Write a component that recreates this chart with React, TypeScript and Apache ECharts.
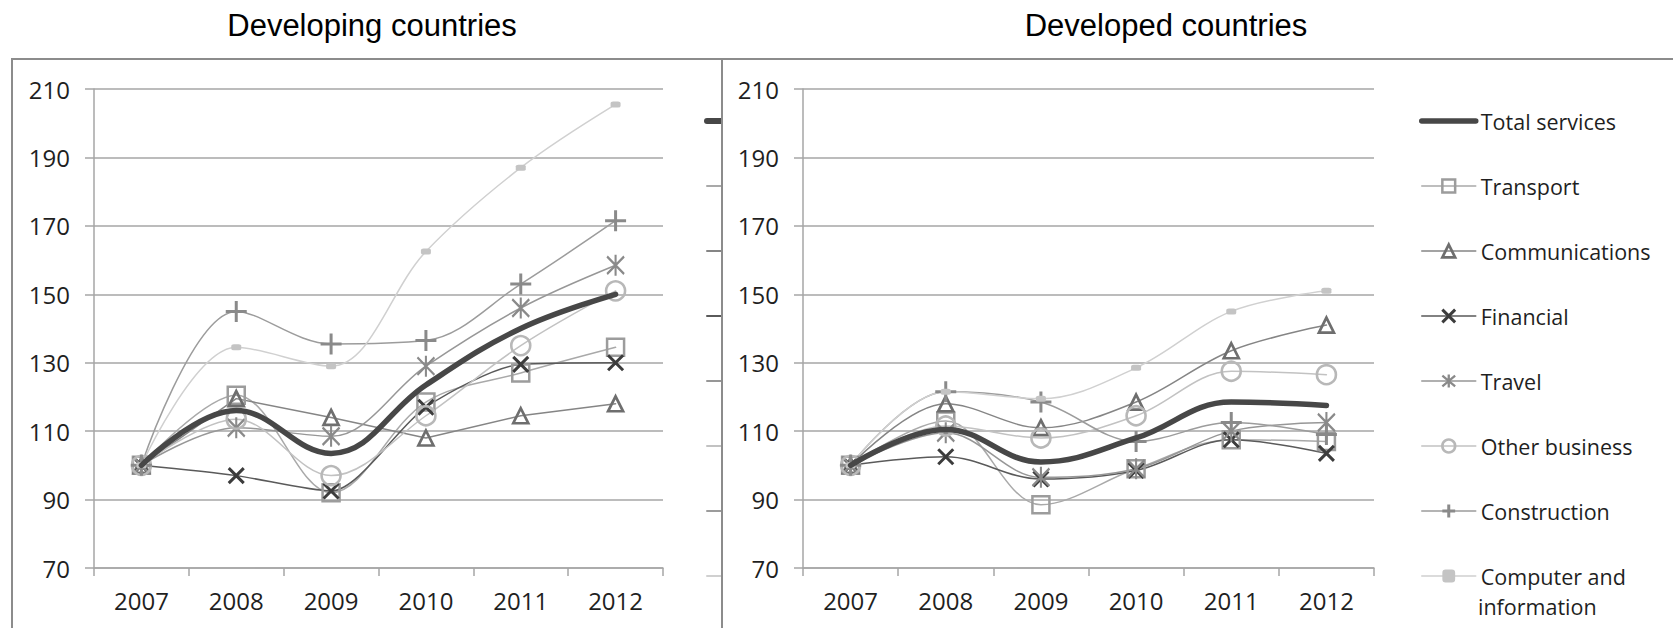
import React, { useEffect, useRef } from 'react';
import * as echarts from 'echarts';

// ---------- data ----------
const years = ['2007', '2008', '2009', '2010', '2011', '2012'];
const yMin = 70;
const yMax = 210;
const yStep = 20;

const seriesNames = [
  'Total services',
  'Transport',
  'Communications',
  'Financial',
  'Travel',
  'Other business',
  'Construction',
  'Computer and information',
];
// legend shows the last name on two lines
const lastNameLines = ['Computer and', 'information'];

const chartTitles = ['Developing countries', 'Developed countries'];

// Developing countries
const devgTotal = [100, 116, 103.5, 123.5, 140, 150];
const devgTransport = [100, 120.5, 92, 118.5, 127, 134.5];
const devgCommunications = [100, 119.5, 114, 108, 114.5, 118];
const devgFinancial = [100, 97, 92.5, 117, 129.5, 130];
const devgTravel = [100, 111, 108.5, 129, 146, 158.5];
const devgOtherBusiness = [100, 113.5, 97, 114.5, 135, 151];
const devgConstruction = [100, 145, 135.5, 136.5, 153, 171.5];
const devgComputer = [100, 134.5, 129, 162.5, 187, 205.5];

// Developed countries
const devdTotal = [100, 110.5, 101, 108, 118.5, 117.5];
const devdTransport = [100, 113, 88.5, 99, 107.5, 107];
const devdCommunications = [100, 118, 111, 118.5, 133.5, 141];
const devdFinancial = [100, 102.5, 96, 98.5, 107.5, 103.5];
const devdTravel = [100, 109.5, 96.5, 99, 110, 112.5];
const devdOtherBusiness = [100, 111.5, 108, 114.5, 127.5, 126.5];
const devdConstruction = [100, 121.5, 118.5, 107, 112.5, 109];
const devdComputer = [100, 121.5, 119.5, 128.5, 145, 151];

const developingValues = [
  devgTotal, devgTransport, devgCommunications, devgFinancial,
  devgTravel, devgOtherBusiness, devgConstruction, devgComputer,
];
const developedValues = [
  devdTotal, devdTransport, devdCommunications, devdFinancial,
  devdTravel, devdOtherBusiness, devdConstruction, devdComputer,
];

// ---------- styles ----------
const X_PATH = 'path://M0,0L10,10M10,0L0,10';
const PLUS_PATH = 'path://M5,0L5,10M0,5L10,5';
const STAR_PATH = 'path://M1,0L9,10M9,0L1,10M5,-1L5,11';
const CLEAR = 'rgba(0,0,0,0)';

type Sty = {
  line: string; width: number; symbol: string; size: number | number[];
  mark: string; fill: string; border: number; smoothL: number | boolean; smoothR: number | boolean;
};

const styles: Sty[] = [
  { line: '#474747', width: 5.5, symbol: 'none', size: 0, mark: CLEAR, fill: CLEAR, border: 0, smoothL: 0.4, smoothR: 0.4 },
  { line: '#a9a9a9', width: 1.5, symbol: 'rect', size: 17, mark: '#9c9c9c', fill: CLEAR, border: 2.5, smoothL: 0.35, smoothR: 0.35 },
  { line: '#858585', width: 1.5, symbol: 'triangle', size: 15, mark: '#6e6e6e', fill: CLEAR, border: 2.7, smoothL: false, smoothR: 0.35 },
  { line: '#5a5a5a', width: 1.5, symbol: X_PATH, size: 15, mark: '#3c3c3c', fill: CLEAR, border: 3, smoothL: 0.25, smoothR: 0.35 },
  { line: '#979797', width: 1.5, symbol: STAR_PATH, size: [17, 21], mark: '#8a8a8a', fill: CLEAR, border: 2.3, smoothL: 0.35, smoothR: 0.35 },
  { line: '#c2c2c2', width: 1.5, symbol: 'circle', size: 19, mark: '#b8b8b8', fill: CLEAR, border: 2.6, smoothL: 0.35, smoothR: 0.35 },
  { line: '#9c9c9c', width: 1.5, symbol: PLUS_PATH, size: 21, mark: '#8a8a8a', fill: CLEAR, border: 3, smoothL: 0.35, smoothR: 0.35 },
  { line: '#d0d0d0', width: 1.5, symbol: 'roundRect', size: [10, 6], mark: '#c4c4c4', fill: '#c4c4c4', border: 0, smoothL: 0.35, smoothR: 0.35 },
];

const FONT = '"Open Sans", "Noto Sans", sans-serif';
const TITLE_FONT = '"Liberation Sans", Arial, sans-serif';
const TEXT_COLOR = '#1f1f1f';
const GRID_COLOR = '#a6a6a6';
const LEG_TOP = 106;
const LEG_PITCH = 65;
const LEG_LINE_H = 30;
const LEG_LEFT = 1419;
const LEG_ITEM_W = 54;
const LEG_FONT = 21.5;

const grids = [
  { left: 94, top: 89, width: 569, height: 479 },
  { left: 803, top: 89, width: 571, height: 479 },
];

function buildSeries(values: number[][], gridIdx: number) {
  const order = [1, 2, 3, 4, 5, 6, 7, 0];
  return order.map((i) => {
    const s = styles[i];
    return {
      type: 'line',
      name: seriesNames[i],
      xAxisIndex: gridIdx,
      yAxisIndex: gridIdx,
      data: values[i],
      smooth: gridIdx === 0 ? s.smoothL : s.smoothR,
      symbol: s.symbol,
      symbolSize: s.size,
      showSymbol: s.symbol !== 'none',
      lineStyle: { color: s.line, width: s.width, cap: 'round' },
      itemStyle: { color: s.fill, borderColor: s.mark, borderWidth: s.border },
      emphasis: { disabled: true },
      z: i === 0 ? 4 : 3,
    };
  });
}

export default function App() {
  const ref = useRef<HTMLDivElement>(null);

  useEffect(() => {
    document.body.style.margin = '0';
    if (!ref.current) return;
    const chart = echarts.init(ref.current, undefined, { renderer: 'svg' });

    const axisCommon = (idx: number) => ({
      x: {
        type: 'category',
        gridIndex: idx,
        data: years,
        boundaryGap: true,
        axisLine: { show: true, lineStyle: { color: GRID_COLOR, width: 1.5 } },
        axisTick: { show: true, length: 8, lineStyle: { color: GRID_COLOR, width: 1.5 } },
        axisLabel: { fontFamily: FONT, fontSize: 24, color: TEXT_COLOR, margin: 20 },
        splitLine: { show: false },
        z: 2,
      },
      y: {
        type: 'value',
        gridIndex: idx,
        min: yMin,
        max: yMax,
        interval: yStep,
        axisLine: { show: true, lineStyle: { color: GRID_COLOR, width: 1.5 } },
        axisTick: { show: true, length: 9, lineStyle: { color: GRID_COLOR, width: 1.5 } },
        axisLabel: { fontFamily: FONT, fontSize: 24, color: TEXT_COLOR, margin: 24 },
        splitLine: { show: true, lineStyle: { color: GRID_COLOR, width: 1.5 } },
        z: 2,
      },
    });
    const a0 = axisCommon(0);
    const a1 = axisCommon(1);

    const rowCenter = (i: number) => LEG_TOP + LEG_LINE_H / 2 + i * LEG_PITCH;

    // stubs of the left chart's legend, hidden behind the right panel
    const stubs = seriesNames.map((_, i) => ({
      type: 'line',
      z: -5,
      shape: { x1: 707, y1: rowCenter(i), x2: 721, y2: rowCenter(i) },
      style: { stroke: styles[i].line, lineWidth: styles[i].width + (i === 0 ? 0.5 : 0.5), lineCap: 'round' },
    }));

    const lastIdx = seriesNames.length - 1;

    const option: any = {
      animation: false,
      backgroundColor: '#ffffff',
      grid: grids.map((g) => ({ ...g, containLabel: false })),
      xAxis: [a0.x, a1.x],
      yAxis: [a0.y, a1.y],
      legend: {
        orient: 'vertical',
        left: LEG_LEFT,
        top: LEG_TOP,
        padding: 0,
        itemWidth: LEG_ITEM_W,
        itemHeight: 16,
        itemGap: LEG_PITCH - LEG_LINE_H,
        selectedMode: false,
        formatter: (name: string) => (name === seriesNames[lastIdx] ? lastNameLines[0] : name),
        textStyle: { fontFamily: FONT, fontSize: LEG_FONT, color: TEXT_COLOR, lineHeight: LEG_LINE_H },
        lineStyle: { width: 'inherit' },
        itemStyle: { borderWidth: 'inherit' },
        data: seriesNames,
      },
      graphic: [
        {
          type: 'rect', z: -10,
          shape: { x: 12, y: 59, width: 800, height: 640 },
          style: { fill: '#ffffff', stroke: '#8c8c8c', lineWidth: 2 },
        },
        ...stubs,
        {
          type: 'rect', z: -4,
          shape: { x: 722, y: 59, width: 1000, height: 640 },
          style: { fill: '#ffffff', stroke: '#8c8c8c', lineWidth: 2 },
        },
        {
          type: 'text', z: 5, x: LEG_LEFT + LEG_ITEM_W + 5, y: rowCenter(lastIdx) + LEG_LINE_H,
          style: {
            text: lastNameLines[1], align: 'left', verticalAlign: 'middle',
            fontFamily: FONT, fontSize: LEG_FONT, fill: TEXT_COLOR,
          },
        },
        {
          type: 'text', z: 5, x: 372, y: 25,
          style: {
            text: chartTitles[0], align: 'center', verticalAlign: 'middle',
            fontFamily: TITLE_FONT, fontSize: 31, fill: '#000',
          },
        },
        {
          type: 'text', z: 5, x: 1166, y: 25,
          style: {
            text: chartTitles[1], align: 'center', verticalAlign: 'middle',
            fontFamily: TITLE_FONT, fontSize: 31, fill: '#000',
          },
        },
      ],
      series: [...buildSeries(developingValues, 0), ...buildSeries(developedValues, 1)],
    };

    chart.setOption(option);
    return () => chart.dispose();
  }, []);

  return (
    <div
      ref={ref}
      style={{ position: 'absolute', left: 0, top: 0, width: 1673, height: 628 }}
    />
  );
}
